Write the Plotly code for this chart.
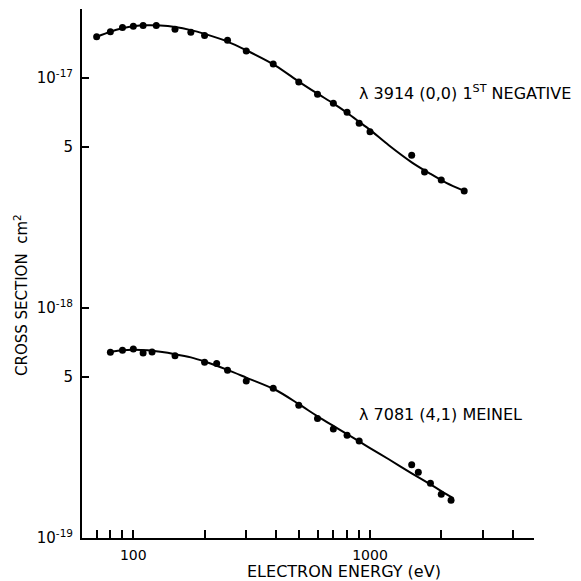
import plotly.graph_objects as go
import math

# Upper series: lambda 3914 (0,0) 1st negative
e_3914 = [70, 80, 90, 100, 110, 125, 150, 175, 200, 250, 300, 390, 500,
          600, 700, 800, 900, 1000, 1500, 1700, 2000, 2500]
s_3914 = [1.51e-17, 1.59e-17, 1.66e-17, 1.68e-17, 1.69e-17, 1.69e-17, 1.63e-17,
          1.58e-17, 1.53e-17, 1.46e-17, 1.31e-17, 1.15e-17, 9.6e-18,
          8.5e-18, 7.76e-18, 7.09e-18, 6.35e-18, 5.84e-18, 4.61e-18, 3.9e-18,
          3.6e-18, 3.23e-18]
# fitted curve
ce_3914 = [70, 80, 90, 100, 115, 130, 150, 175, 200, 250, 300, 400, 500, 600, 700,
           800, 900, 1000, 1200, 1500, 1800, 2100, 2500]
cs_3914 = [1.51e-17, 1.59e-17, 1.645e-17, 1.68e-17, 1.695e-17, 1.69e-17, 1.665e-17,
           1.615e-17, 1.555e-17, 1.44e-17, 1.32e-17, 1.13e-17, 9.65e-18, 8.55e-18,
           7.75e-18, 7.05e-18, 6.45e-18, 5.95e-18, 5.1e-18, 4.3e-18, 3.83e-18,
           3.5e-18, 3.23e-18]

# Lower series: lambda 7081 (4,1) Meinel
e_7081 = [80, 90, 100, 110, 120, 150, 200, 225, 250, 300, 390, 500,
          600, 700, 800, 900, 1500, 1600, 1800, 2000, 2200]
s_7081 = [6.42e-19, 6.55e-19, 6.63e-19, 6.37e-19, 6.44e-19, 6.2e-19, 5.81e-19,
          5.73e-19, 5.36e-19, 4.82e-19, 4.48e-19, 3.78e-19,
          3.31e-19, 2.98e-19, 2.8e-19, 2.64e-19, 2.08e-19, 1.93e-19, 1.73e-19,
          1.55e-19, 1.46e-19]
ce_7081 = [80, 90, 100, 115, 130, 150, 175, 200, 250, 300, 400, 500, 600, 700, 800,
           900, 1000, 1200, 1500, 1800, 2000, 2250]
cs_7081 = [6.45e-19, 6.55e-19, 6.58e-19, 6.55e-19, 6.45e-19, 6.3e-19, 6.1e-19,
           5.85e-19, 5.38e-19, 4.98e-19, 4.4e-19, 3.82e-19, 3.38e-19, 3.07e-19,
           2.83e-19, 2.63e-19, 2.46e-19, 2.2e-19, 1.91e-19, 1.71e-19, 1.6e-19, 1.49e-19]

x_tickvals = [70, 80, 90, 100, 200, 300, 400, 500, 600, 700, 800, 900,
              1000, 2000, 3000, 4000, 5000]
x_ticktext = ["", "", "", "100", "", "", "", "", "", "", "", "",
              "1000", "", "", "", ""]
y_tickvals = [1e-19, 5e-19, 1e-18, 5e-18, 1e-17]
y_ticktext = ["10<sup>-19</sup>", "5", "10<sup>-18</sup>", "5", "10<sup>-17</sup>"]

FONT = "DejaVu Sans"
fig = go.Figure()
for ce, cs in [(ce_3914, cs_3914), (ce_7081, cs_7081)]:
    fig.add_trace(go.Scatter(x=ce, y=cs, mode="lines",
                             line=dict(color="black", width=2, shape="spline", smoothing=0.8),
                             hoverinfo="skip", showlegend=False))
for e, s in [(e_3914, s_3914), (e_7081, s_7081)]:
    fig.add_trace(go.Scatter(x=e, y=s, mode="markers",
                             marker=dict(color="black", size=7),
                             showlegend=False))

# page body has an 8px margin; figure occupies 8..581
fig.update_layout(
    width=573, height=573,
    margin=dict(l=74, r=47, t=1, b=43, autoexpand=False),
    paper_bgcolor="white", plot_bgcolor="white",
    font=dict(family=FONT, color="black", size=14),
    showlegend=False,
)
fig.update_xaxes(type="log", range=[math.log10(60.7), math.log10(4930)],
                 tickvals=x_tickvals, ticktext=x_ticktext,
                 ticks="inside", ticklen=8, tickwidth=1.5, tickcolor="black",
                 showline=True, linecolor="black", linewidth=2,
                 showgrid=False, zeroline=False, automargin=False,
                 ticklabelstandoff=3,
                 tickfont=dict(size=14))
fig.update_yaxes(type="log", range=[-19, -16.7],
                 tickvals=y_tickvals, ticktext=y_ticktext,
                 ticks="inside", ticklen=7, tickwidth=1.5, tickcolor="black",
                 showline=True, linecolor="black", linewidth=2,
                 showgrid=False, zeroline=False, automargin=False,
                 ticklabelstandoff=4,
                 tickfont=dict(size=15))

fig.add_annotation(xref="paper", yref="paper", x=(344 - 82) / 452, y=-(571 - 538) / 529,
                   text="ELECTRON ENERGY (eV)", showarrow=False,
                   font=dict(size=16, family=FONT), xanchor="center", yanchor="middle")
fig.add_annotation(xref="paper", yref="paper", x=-(82 - 21) / 452, y=(538 - 295) / 529,
                   text="CROSS SECTION  cm<sup>2</sup>", showarrow=False, textangle=-90,
                   font=dict(size=15, family=FONT), xanchor="center", yanchor="middle")
fig.add_annotation(xref="paper", yref="paper", x=(357 - 82) / 452, y=(538 - 93) / 529,
                   text="λ 3914 (0,0) 1<sup>ST</sup> NEGATIVE", showarrow=False,
                   font=dict(size=16, family=FONT), xanchor="left", yanchor="middle")
fig.add_annotation(xref="paper", yref="paper", x=(357 - 82) / 452, y=(538 - 414) / 529,
                   text="λ 7081 (4,1) MEINEL", showarrow=False,
                   font=dict(size=16, family=FONT), xanchor="left", yanchor="middle")

fig.write_html("out.html")
